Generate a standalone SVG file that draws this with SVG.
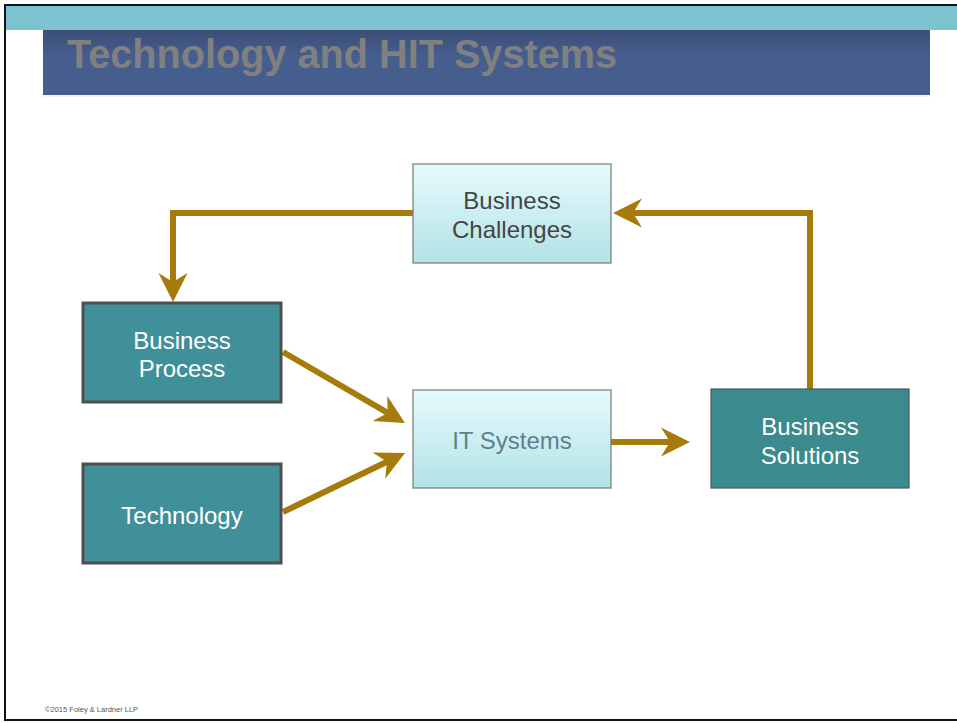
<svg xmlns="http://www.w3.org/2000/svg" width="957" height="723" viewBox="0 0 957 723">
<defs>
<linearGradient id="lite" x1="0" y1="0" x2="0" y2="1">
<stop offset="0" stop-color="#E6FBFE"/>
<stop offset="1" stop-color="#B2E2E5"/>
</linearGradient>
<linearGradient id="title" x1="0" y1="0" x2="0" y2="1">
<stop offset="0" stop-color="#3A4E77"/>
<stop offset="0.4" stop-color="#465E8D"/>
<stop offset="1" stop-color="#465E8D"/>
</linearGradient>
<marker id="ah" markerUnits="userSpaceOnUse" markerWidth="32" markerHeight="32" viewBox="0 0 32 32" refX="9" refY="16" orient="auto">
<path d="M0,1.5 L29,16 L0,30.5 L9,16 Z" fill="#A67B0B"/>
</marker>
</defs>
<style>
.conn{fill:none;stroke:#A67B0B;stroke-width:6;stroke-linejoin:miter}
.dark{fill:#40909A;stroke:#4F4F4F;stroke-width:3}
.lite{fill:url(#lite);stroke:#787878;stroke-width:1.2}
.t{font-family:"Liberation Sans",Arial,sans-serif;font-size:24px;text-anchor:middle}
</style>
<rect x="0" y="0" width="957" height="723" fill="#FFFFFF"/>
<rect x="5" y="5" width="960" height="715" fill="none" stroke="#111" stroke-width="2"/>
<rect x="6" y="6" width="951" height="24" fill="#7CC3CF"/>
<rect x="43" y="31" width="887" height="66" fill="#E8ECF4" opacity="0.6"/>
<rect x="43" y="30" width="887" height="65" fill="url(#title)"/>
<text x="67" y="68" font-family="Liberation Sans,Arial,sans-serif" font-size="40" font-weight="bold" fill="#808080" textLength="550" lengthAdjust="spacingAndGlyphs">Technology and HIT Systems</text>
<g id="connectors">
<path class="conn" d="M413,213 H173 V282" marker-end="url(#ah)"/>
<path class="conn" d="M283,352 L387.7,412.9" marker-end="url(#ah)"/>
<path class="conn" d="M283,512 L387,461.7" marker-end="url(#ah)"/>
<path class="conn" d="M611,442 H670" marker-end="url(#ah)"/>
<path class="conn" d="M810,389 V213 H633" marker-end="url(#ah)"/>
</g>
<g id="challenges">
<rect class="lite" x="413" y="164" width="198" height="99"/>
<text class="t" x="512" y="209" fill="#454545">Business</text>
<text class="t" x="512" y="238" fill="#454545">Challenges</text>
</g>
<g id="process">
<rect class="dark" x="83" y="303" width="198" height="99"/>
<text class="t" x="182" y="349" fill="#FFFFFF">Business</text>
<text class="t" x="182" y="377" fill="#FFFFFF">Process</text>
</g>
<g id="technology">
<rect class="dark" x="83" y="464" width="198" height="99"/>
<text class="t" x="182" y="524" fill="#FFFFFF">Technology</text>
</g>
<g id="itsystems">
<rect class="lite" x="413" y="390" width="198" height="98"/>
<text class="t" x="512" y="449" fill="#5E7F90">IT Systems</text>
</g>
<g id="solutions">
<rect x="711" y="389" width="198" height="99" fill="#3B8A8D" stroke="#4A5A5A" stroke-width="1.2"/>
<text class="t" x="810" y="435" fill="#FFFFFF">Business</text>
<text class="t" x="810" y="464" fill="#FFFFFF">Solutions</text>
</g>
<text x="45" y="712" font-family="Liberation Sans,Arial,sans-serif" font-size="7.5" fill="#555">©2015 Foley &amp; Lardner LLP</text>
</svg>
